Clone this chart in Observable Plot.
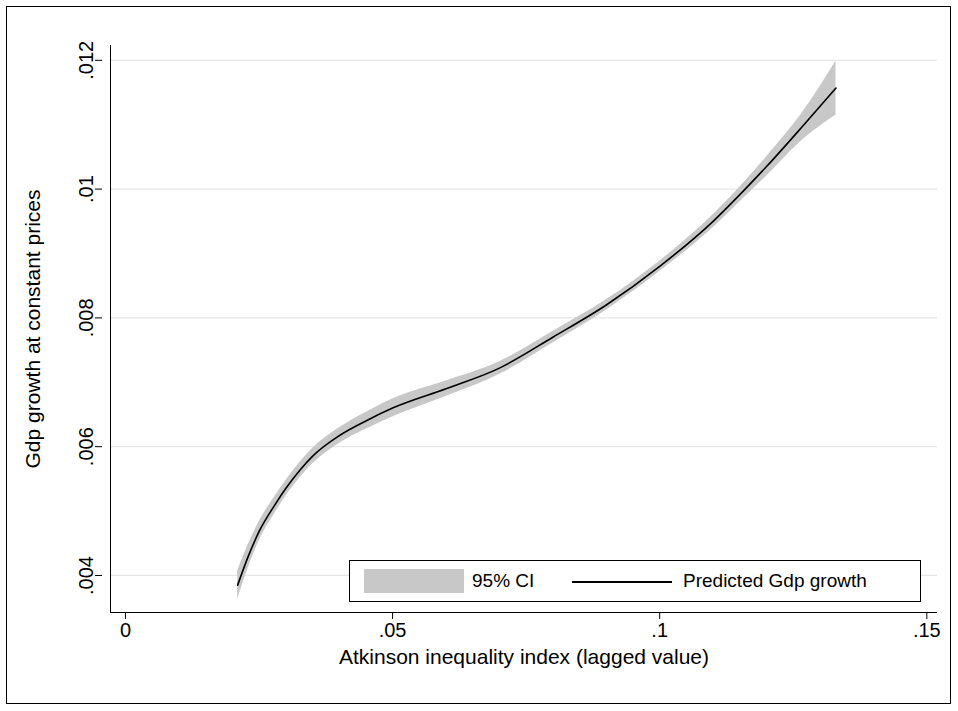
<!DOCTYPE html>
<html><head>
<script src="https://cdn.jsdelivr.net/npm/d3@7"></script>
<script src="https://cdn.jsdelivr.net/npm/@observablehq/plot@0.6"></script>
<style>
body{margin:0;background:#fff;font-family:"Liberation Sans",Arial,sans-serif;}
#wrap{position:relative;width:958px;height:711px;}
#frame{position:absolute;left:6px;top:6px;width:945px;height:698px;border:1px solid #000;box-sizing:border-box;pointer-events:none;}
#legend{position:absolute;left:349px;top:560px;width:572px;height:42px;border:1px solid #000;box-sizing:border-box;background:#fff;font-size:19px;}
</style></head><body>
<div id="wrap"><div id="chart"></div><div id="frame"></div>
<div id="legend">
 <div style="position:absolute;left:14px;top:8px;width:100px;height:24px;background:#c8c8c8"></div>
 <div style="position:absolute;left:122px;top:9px">95% CI</div>
 <div style="position:absolute;left:222px;top:20px;width:100px;height:2px;background:#000"></div>
 <div style="position:absolute;left:333px;top:9px">Predicted Gdp growth</div>
</div></div>
<script>
const xs   = [0.021,0.023,0.025,0.028,0.030,0.0328,0.035,0.040,0.045,0.050,0.060,0.070,0.080,0.090,0.100,0.110,0.116,0.120,0.127,0.133];
const pred = [0.00385,0.0043,0.00468,0.0051,0.00535,0.00565,0.00585,0.00617,0.00640,0.00660,0.0069,0.00722,0.0077,0.0082,0.0088,0.0095,0.0100,0.01035,0.0110,0.01157];
const half = [0.00022,0.00018,0.00015,0.00013,0.00012,0.00012,0.00012,0.00012,0.00013,0.00014,0.00012,0.0001,0.00009,0.00008,0.00008,0.0001,0.00012,0.00015,0.00022,0.00042];
const xTicks=[0,0.05,0.1,0.15], xLabels=["0",".05",".1",".15"];
const yTicks=[0.004,0.006,0.008,0.010,0.012], yLabels=[".004",".006",".008",".01",".012"];
const data = xs.map((x,i)=>({x,y:pred[i],lo:pred[i]-half[i],hi:pred[i]+half[i]}));
const xmin=-0.0028, ymin=0.003425;
const chart = Plot.plot({
  width:958,height:711,marginLeft:110,marginRight:21,marginTop:45,marginBottom:99,
  style:{fontFamily:"Liberation Sans, Arial, sans-serif",fontSize:"19px",color:"#000",background:"transparent"},
  x:{domain:[xmin,0.152]},
  y:{domain:[ymin,0.01223]},
  marks:[
    Plot.gridY(yTicks,{stroke:"#e6e6e6",strokeOpacity:1,strokeWidth:1.3}),
    Plot.areaY(data,{x:"x",y1:"lo",y2:"hi",fill:"#c8c8c8",curve:"monotone-x"}),
    Plot.line(data,{x:"x",y:"y",stroke:"#000",strokeWidth:1.6,curve:"monotone-x"}),
    Plot.ruleX([xmin],{stroke:"#000"}),
    Plot.ruleY([ymin],{stroke:"#000"}),
    Plot.axisX({ticks:xTicks,tickFormat:(d,i)=>xLabels[i],tickSize:7,fontSize:20,label:null}),
    Plot.axisY({ticks:yTicks,tickFormat:(d,i)=>yLabels[i],tickSize:7,tickRotate:-90,textAnchor:"middle",dx:-8,fontSize:20,label:null}),
    Plot.text([0],{frameAnchor:"bottom",dy:51,text:()=>"Atkinson inequality index (lagged value)",fontSize:21}),
    Plot.text([0],{frameAnchor:"left",textAnchor:"middle",dx:-77,rotate:-90,text:()=>"Gdp growth at constant prices",fontSize:21})
  ]
});
document.getElementById("chart").appendChild(chart);
</script></body></html>
